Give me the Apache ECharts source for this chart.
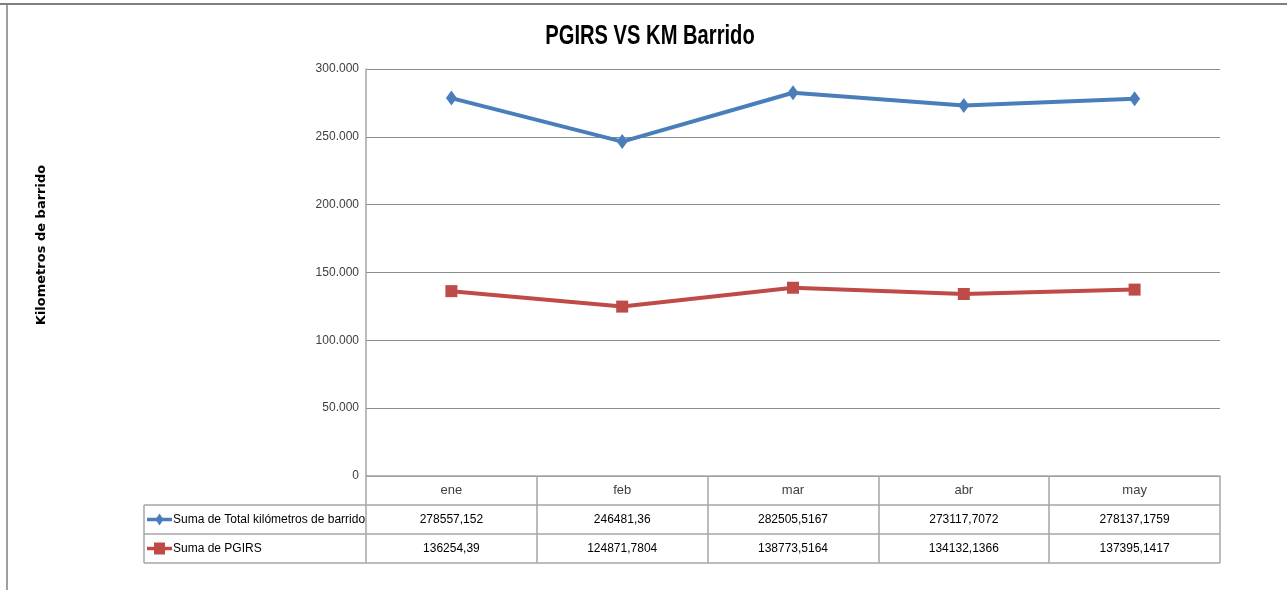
<!DOCTYPE html>
<html>
<head>
<meta charset="utf-8">
<script src="https://cdn.jsdelivr.net/npm/echarts@6/dist/echarts.min.js"></script>
<style>
  html, body { margin: 0; padding: 0; background: #fff; }
  #chart { width: 1287px; height: 590px; }
</style>
</head>
<body>
<div id="chart"></div>
<script>
// months shown on the category axis
const months = ['ene', 'feb', 'mar', 'abr', 'may']
// Suma de Total kilómetros de barrido
const totalKm = [278557.152, 246481.36, 282505.5167, 273117.7072, 278137.1759]
// Suma de PGIRS
const pgirs = [136254.39, 124871.7804, 138773.5164, 134132.1366, 137395.1417]
const seriesNames = ['Suma de Total kilómetros de barrido', 'Suma de PGIRS']
const colors = ['#4A7EBB', '#BE4B48']

const sans = '"Liberation Sans", Arial, sans-serif'
const gridColor = '#8C8C8C'
const tableColor = '#A6A6A6'
const textColor = '#404040'

// layout of the plot area
const gl = 366
const gr = 1220
const gt = 69
const gb = 476
const rowH = 29
const tableLeft = 144

const fmtDec = v => String(v).replace('.', ',')
const fmtAxis = v => v === 0 ? '0' : String(v).replace(/\B(?=(\d{3})+(?!\d))/g, '.')

const chart = echarts.init(document.getElementById('chart'))

function tableGraphics() {
  const g = []
  // page frame
  g.push({ type: 'line', shape: { x1: 0, y1: 4, x2: 1287, y2: 4 }, style: { stroke: '#7F7F7F', lineWidth: 2 } })
  g.push({ type: 'line', shape: { x1: 7, y1: 4, x2: 7, y2: 590 }, style: { stroke: '#7F7F7F', lineWidth: 1.5 } })
  // title, condensed like the original
  g.push({
    type: 'text', x: 650, y: 36, scaleX: 0.72,
    style: { text: 'PGIRS VS KM Barrido', font: 'bold 28px ' + sans, fill: '#000', align: 'center', verticalAlign: 'middle' }
  })
  // y axis name
  g.push({
    type: 'text', x: 42, y: 245, rotation: Math.PI / 2,
    style: { text: 'Kilometros de barrido', font: 'bold 13px "DejaVu Sans", Verdana, sans-serif', fill: '#000', align: 'center', verticalAlign: 'middle' }
  })
  // horizontal table rules
  for (let r = 1; r <= 3; r++) {
    const y = gb + rowH * r
    g.push({ type: 'line', shape: { x1: tableLeft, y1: y, x2: gr, y2: y }, style: { stroke: tableColor, lineWidth: 1.5 } })
  }
  g.push({ type: 'line', shape: { x1: tableLeft, y1: gb + rowH, x2: tableLeft, y2: gb + rowH * 3 }, style: { stroke: tableColor, lineWidth: 1.5 } })
  // row headers with legend keys
  seriesNames.forEach((name, i) => {
    const cy = gb + rowH * (i + 1) + rowH / 2
    g.push({ type: 'line', shape: { x1: tableLeft + 3, y1: cy, x2: tableLeft + 28, y2: cy }, style: { stroke: colors[i], lineWidth: 3.5 } })
    if (i === 0) {
      g.push({ type: 'polygon', shape: { points: [[tableLeft + 15.5, cy - 6], [tableLeft + 19.5, cy], [tableLeft + 15.5, cy + 6], [tableLeft + 11.5, cy]] }, style: { fill: colors[i] } })
    } else {
      g.push({ type: 'rect', shape: { x: tableLeft + 10, y: cy - 6, width: 11, height: 12 }, style: { fill: colors[i] } })
    }
    g.push({
      type: 'text', x: tableLeft + 29, y: cy,
      style: { text: name, font: '12px ' + sans, fill: '#000', align: 'left', verticalAlign: 'middle' }
    })
  })
  return g
}

chart.setOption({
  animation: false,
  grid: { left: gl, right: 1287 - gr, top: gt, bottom: 590 - gb, containLabel: false },
  xAxis: [
    {
      type: 'category',
      data: months,
      boundaryGap: true,
      axisLine: { lineStyle: { color: tableColor, width: 1.5 } },
      axisTick: { show: true, length: rowH * 3, lineStyle: { color: tableColor, width: 1.5 } },
      axisLabel: { color: textColor, fontFamily: sans, fontSize: 13, margin: 8 },
      splitLine: { show: false }
    },
    {
      type: 'category',
      data: totalKm.map(fmtDec),
      position: 'bottom',
      offset: rowH,
      axisLine: { show: false },
      axisTick: { show: false },
      axisLabel: { color: '#000', fontFamily: sans, fontSize: 12, margin: 9 }
    },
    {
      type: 'category',
      data: pgirs.map(fmtDec),
      position: 'bottom',
      offset: rowH * 2,
      axisLine: { show: false },
      axisTick: { show: false },
      axisLabel: { color: '#000', fontFamily: sans, fontSize: 12, margin: 9 }
    }
  ],
  yAxis: {
    type: 'value',
    min: 0,
    max: 300000,
    interval: 50000,
    axisLine: { show: true, lineStyle: { color: tableColor, width: 1.5 } },
    axisTick: { show: false },
    axisLabel: { color: textColor, fontFamily: sans, fontSize: 12, margin: 7, formatter: fmtAxis },
    splitLine: { lineStyle: { color: gridColor, width: 1 } }
  },
  series: [
    {
      name: seriesNames[0],
      type: 'line',
      data: totalKm,
      symbol: 'diamond',
      symbolSize: [11, 15],
      lineStyle: { color: colors[0], width: 4 },
      itemStyle: { color: colors[0] }
    },
    {
      name: seriesNames[1],
      type: 'line',
      data: pgirs,
      symbol: 'rect',
      symbolSize: 12,
      lineStyle: { color: colors[1], width: 4 },
      itemStyle: { color: colors[1] }
    }
  ],
  graphic: tableGraphics()
})
</script>
</body>
</html>
